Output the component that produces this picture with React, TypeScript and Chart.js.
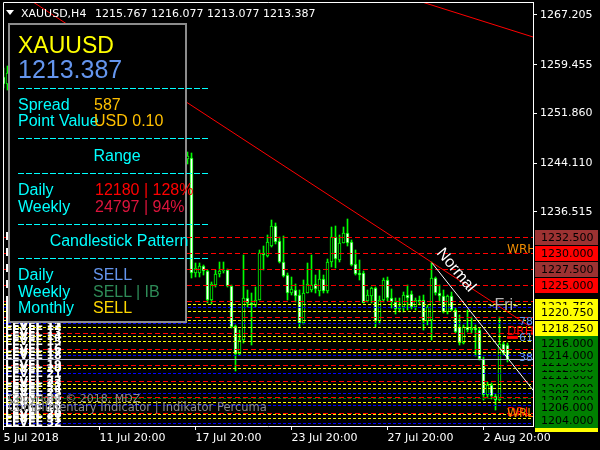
import React, { useEffect, useRef } from 'react';
import { Chart, registerables } from 'chart.js';

Chart.register(...registerables);

// ---------- data ----------
const FIRST_BAR = -47; // index of the first bar (bar 0 = first bar right of the info panel)

const opens = [
  1257.5, 1256.4, 1258.1, 1255.9, 1253.6, 1254.7, 1255.3, 1252.2, 1250.8, 1252.0,
  1253.1, 1251.2, 1249.5, 1250.6, 1251.7, 1250.9, 1248.3, 1247.0, 1248.2, 1249.4,
  1248.6, 1246.4, 1247.3, 1246.8, 1244.7, 1245.8, 1246.9, 1247.6, 1245.5, 1243.8,
  1244.6, 1245.4, 1246.1, 1245.7, 1244.2, 1245.0, 1246.3, 1245.6, 1244.4, 1243.3,
  1244.0, 1245.2, 1244.9, 1243.7, 1244.6, 1245.5, 1244.8,
  1244.9, 1226.9, 1226.9, 1228.0, 1227.3, 1222.7, 1225.1, 1226.8, 1227.2, 1227.4,
  1224.9, 1218.7, 1214.3, 1216.5, 1223.0, 1222.2, 1222.0, 1222.8, 1230.1, 1229.6,
  1231.1, 1234.3, 1231.9, 1228.7, 1226.6, 1223.8, 1224.3, 1223.5, 1219.2, 1223.9,
  1224.3, 1225.3, 1224.2, 1226.0, 1224.2, 1228.6, 1232.5, 1229.0, 1231.7, 1233.2,
  1231.8, 1228.4, 1226.9, 1227.0, 1222.6, 1223.4, 1224.6, 1219.4, 1222.8, 1225.9,
  1223.1, 1222.5, 1221.4, 1221.7, 1223.5, 1223.7, 1221.7, 1222.7, 1222.8, 1219.4,
  1219.6, 1226.1, 1223.8, 1223.3, 1220.9, 1223.4, 1221.2, 1218.6, 1216.0, 1218.6,
  1218.1, 1218.4, 1218.0, 1213.6, 1207.9, 1209.5, 1207.7, 1207.2, 1215.9, 1215.767,
];
const highs = [
  1259.0, 1259.3, 1259.6, 1257.0, 1255.1, 1256.2, 1255.9, 1253.4, 1252.6, 1253.8,
  1254.0, 1252.0, 1251.3, 1252.2, 1252.5, 1251.6, 1249.7, 1248.8, 1250.1, 1250.6,
  1249.2, 1247.9, 1248.4, 1247.6, 1246.3, 1247.5, 1248.2, 1248.0, 1246.4, 1245.1,
  1246.0, 1246.7, 1247.3, 1246.2, 1245.5, 1246.8, 1247.0, 1246.1, 1245.2, 1244.6,
  1245.8, 1246.4, 1245.6, 1245.0, 1246.2, 1246.0, 1245.9,
  1245.6, 1228.5, 1228.5, 1228.2, 1227.4, 1225.6, 1227.4, 1228.6, 1228.7, 1227.5,
  1225.1, 1218.8, 1218.1, 1229.8, 1224.3, 1223.8, 1224.8, 1230.5, 1231.1, 1232.9,
  1235.2, 1234.7, 1232.6, 1232.7, 1226.9, 1226.4, 1225.2, 1224.3, 1225.9, 1228.5,
  1229.8, 1226.6, 1227.4, 1226.6, 1229.1, 1234.2, 1234.3, 1232.9, 1234.2, 1235.3,
  1232.1, 1230.5, 1229.0, 1227.2, 1224.3, 1224.8, 1224.8, 1223.3, 1226.2, 1226.3,
  1224.5, 1223.0, 1223.0, 1224.0, 1225.1, 1224.2, 1223.0, 1223.4, 1223.5, 1221.9,
  1228.6, 1226.4, 1225.1, 1224.3, 1223.5, 1224.0, 1221.5, 1220.4, 1218.9, 1221.2,
  1220.1, 1218.9, 1218.3, 1213.9, 1209.9, 1209.8, 1208.0, 1220.1, 1216.2, 1216.077,
];
const lows = [
  1255.8, 1255.5, 1255.2, 1252.8, 1252.4, 1253.5, 1251.7, 1250.1, 1249.9, 1251.3,
  1250.6, 1248.7, 1248.9, 1249.8, 1250.4, 1247.8, 1246.5, 1246.1, 1247.6, 1248.0,
  1245.9, 1245.3, 1246.2, 1244.1, 1243.9, 1245.1, 1245.8, 1245.0, 1243.2, 1242.9,
  1244.0, 1244.5, 1245.2, 1243.6, 1243.4, 1244.6, 1245.1, 1243.9, 1242.8, 1242.5,
  1243.6, 1244.3, 1243.1, 1243.0, 1244.2, 1244.1, 1244.0,
  1226.2, 1226.4, 1226.4, 1226.6, 1222.2, 1222.1, 1224.8, 1226.4, 1226.9, 1224.7,
  1218.3, 1211.6, 1214.2, 1216.0, 1221.7, 1215.7, 1221.7, 1222.7, 1227.4, 1229.5,
  1231.0, 1231.5, 1228.5, 1226.4, 1222.7, 1223.5, 1222.5, 1218.3, 1219.0, 1223.8,
  1224.0, 1223.8, 1223.3, 1223.8, 1223.8, 1227.9, 1227.7, 1228.7, 1231.6, 1231.1,
  1228.0, 1226.6, 1225.9, 1222.2, 1222.5, 1222.2, 1218.6, 1219.0, 1222.5, 1222.6,
  1221.5, 1220.5, 1220.8, 1220.9, 1221.2, 1221.3, 1221.2, 1222.0, 1218.0, 1218.9,
  1216.5, 1223.5, 1222.5, 1220.7, 1220.5, 1221.0, 1217.6, 1215.7, 1215.8, 1217.8,
  1217.6, 1214.0, 1213.4, 1207.1, 1207.4, 1207.3, 1205.5, 1207.0, 1214.2, 1213.077,
];
const closes = [
  1256.4, 1258.1, 1255.9, 1253.6, 1254.7, 1255.3, 1252.2, 1250.8, 1252.0, 1253.1,
  1251.2, 1249.5, 1250.6, 1251.7, 1250.9, 1248.3, 1247.0, 1248.2, 1249.4, 1248.6,
  1246.4, 1247.3, 1246.8, 1244.7, 1245.8, 1246.9, 1247.6, 1245.5, 1243.8, 1244.6,
  1245.4, 1246.1, 1245.7, 1244.2, 1245.0, 1246.3, 1245.6, 1244.4, 1243.3, 1244.0,
  1245.2, 1244.9, 1243.7, 1244.6, 1245.5, 1244.8, 1245.2,
  1226.9, 1227.7, 1228.0, 1227.3, 1222.7, 1225.2, 1226.8, 1227.3, 1227.4, 1224.9,
  1218.6, 1214.3, 1216.5, 1223.0, 1222.2, 1222.0, 1222.8, 1230.1, 1229.7, 1231.8,
  1234.3, 1231.8, 1228.6, 1226.5, 1223.8, 1224.4, 1223.4, 1219.1, 1223.9, 1225.3,
  1225.1, 1224.4, 1226.0, 1224.2, 1228.7, 1232.5, 1229.1, 1231.6, 1233.2, 1231.7,
  1228.2, 1226.8, 1226.7, 1222.3, 1223.5, 1224.6, 1219.4, 1222.8, 1225.9, 1223.1,
  1222.5, 1221.4, 1221.7, 1223.5, 1223.0, 1221.7, 1222.7, 1222.5, 1219.4, 1221.7,
  1226.1, 1223.8, 1223.3, 1220.9, 1223.4, 1221.2, 1217.8, 1216.0, 1218.6, 1218.1,
  1218.4, 1218.0, 1213.6, 1207.9, 1209.5, 1207.7, 1207.2, 1215.9, 1214.5, 1213.387,
];

const AXIS_MIN = -47.125;
const AXIS_MAX = 85.375;
const PRICE_MIN = 1203.077;
const PRICE_MAX = 1269.233;

const yTickValues = [1236.515, 1244.11, 1251.86, 1259.455, 1267.205];
const xTickBars = [-47, -23, 1, 25, 49, 73];
const xTickLabels = ['5 Jul 2018', '11 Jul 20:00', '17 Jul 20:00', '23 Jul 20:00', '27 Jul 20:00', '2 Aug 20:00'];

const redLevels = [1232.5, 1230, 1227.5, 1225, 1222.5, 1220, 1217.5, 1215, 1212.5, 1210, 1207.5, 1205];
const yellowLevels = [1222.0, 1221.0, 1219.6, 1218.5, 1217.0, 1216.2, 1214.5, 1212.0, 1209.6, 1208.9, 1206.8, 1204.8, 1204.2];
const blueLevels = [1221.5, 1219.0, 1214.0, 1211.2, 1208.2, 1206.2, 1203.5];
const greenLevels = [1207.3];
const bidPrice = 1213.387;

const redTrendA = [[-50, 1273.47], [86, 1218.04]];
const redTrendB = [[55, 1269.75], [86, 1263.65]];
const normalTrend = [[60, 1228.6], [86, 1208.2]];
const drhMark = [[78.9, 1216.9], [81.6, 1216.9]];

const boxPrices = [1232.5, 1230, 1227.5, 1225, 1221.75, 1220.75, 1218.25, 1211, 1212, 1213, 1214, 1216, 1209, 1208, 1207, 1206, 1203.25, 1204];
const boxColors = ['#9c3232', '#ff0000', '#9c3232', '#ff0000', '#ffff00', '#ffff00', '#ffff00', '#008000', '#008000', '#008000', '#008000', '#008000', '#008000', '#008000', '#008000', '#008000', '#ffff00', '#008000'];

const chartNotes = [
  { text: 'WRH', bar: 78.9, price: 1230.0, color: '#f08c00', size: 12 },
  { text: 'DRH', bar: 78.9, price: 1217.3, color: '#ff0000', size: 12 },
  { text: 'DRL', bar: 78.9, price: 1204.6, color: '#ff0000', size: 12 },
  { text: 'WRL', bar: 78.9, price: 1204.5, color: '#f08c00', size: 12 },
  { text: '78', bar: 81.9, price: 1218.8, color: '#6495ed', size: 11 },
  { text: '61', bar: 81.9, price: 1216.3, color: '#6495ed', size: 11 },
  { text: '38', bar: 81.9, price: 1213.2, color: '#6495ed', size: 11 },
];
// ---------- end data ----------

const FONT_AXIS = '"DejaVu Sans", sans-serif';
const FONT_PANEL = '"Liberation Sans", Arial, sans-serif';

function hLine(v: number, color: string, dash: number[], order = 2, width = 1) {
  return {
    type: 'line' as const,
    data: [{ x: AXIS_MIN, y: v }, { x: AXIS_MAX, y: v }],
    borderColor: color,
    borderWidth: width,
    borderDash: dash,
    pointRadius: 0,
    tension: 0,
    order,
    snap: true,
  };
}
function segLine(pts: number[][], color: string, width = 1, order = 1) {
  return {
    type: 'line' as const,
    data: pts.map(([x, y]) => ({ x, y })),
    borderColor: color,
    borderWidth: width,
    pointRadius: 0,
    tension: 0,
    order,
  };
}

// snap scale-computed pixels to the device grid so 1px lines stay crisp
const snapPlugin = {
  id: 'pixelSnap',
  afterDatasetsUpdate(chart: any) {
    chart.data.datasets.forEach((ds: any, i: number) => {
      const meta = chart.getDatasetMeta(i);
      if (ds.snap) {
        meta.data.forEach((pt: any) => {
          pt.y = Math.floor(pt.y) + 0.5;
        });
      } else if (ds.type === 'bar') {
        meta.data.forEach((b: any) => {
          b.y = Math.round(b.y);
          b.base = Math.round(b.base);
        });
      }
    });
  },
};

const overlayPlugin = {
  id: 'mt4overlay',
  afterDatasetsDraw(chart: any) {
    const { ctx, chartArea, scales } = chart;
    const x = scales.x, y = scales.y;
    ctx.save();
    ctx.beginPath();
    ctx.rect(chartArea.left, chartArea.top, chartArea.right - chartArea.left, chartArea.bottom - chartArea.top);
    ctx.clip();

    // LEVEL labels stacked on the left
    const levels = [...redLevels, ...yellowLevels, ...blueLevels].sort((a, b) => b - a);
    ctx.font = `bold 11px ${FONT_AXIS}`;
    ctx.fillStyle = '#ffffff';
    ctx.textBaseline = 'middle';
    ctx.textAlign = 'left';
    levels.forEach((p, i) => ctx.fillText(`LEVEL ${i + 1}`, 5, y.getPixelForValue(p)));

    // annotations
    ctx.textBaseline = 'alphabetic';
    chartNotes.forEach((n) => {
      ctx.font = `${n.size}px ${FONT_AXIS}`;
      ctx.fillStyle = n.color;
      ctx.fillText(n.text, x.getPixelForValue(n.bar), y.getPixelForValue(n.price));
    });
    ctx.font = `16px ${FONT_PANEL}`;
    ctx.fillStyle = '#b4b4b4';
    ctx.fillText('-Fri-', x.getPixelForValue(74.4), y.getPixelForValue(1221.2));

    // "Normal" rotated label
    ctx.save();
    ctx.translate(x.getPixelForValue(66.1), y.getPixelForValue(1227.4));
    ctx.rotate((50 * Math.PI) / 180);
    ctx.font = `16px ${FONT_PANEL}`;
    ctx.fillStyle = '#ffffff';
    ctx.textAlign = 'center';
    ctx.textBaseline = 'middle';
    ctx.fillText('Normal', 0, 0);
    ctx.restore();
    ctx.restore();
  },
  afterDraw(chart: any) {
    const { ctx, chartArea, scales } = chart;
    const y = scales.y;
    ctx.save();
    // frame left + top
    ctx.strokeStyle = '#ffffff';
    ctx.lineWidth = 1;
    ctx.beginPath();
    ctx.moveTo(chartArea.left + 0.5, chartArea.bottom);
    ctx.lineTo(chartArea.left + 0.5, chartArea.top + 0.5);
    ctx.lineTo(chartArea.right, chartArea.top + 0.5);
    ctx.stroke();
    // price boxes on the right axis
    ctx.font = `11px ${FONT_AXIS}`;
    ctx.textBaseline = 'middle';
    ctx.textAlign = 'left';
    boxPrices.forEach((p, i) => {
      const py = y.getPixelForValue(p);
      const top = Math.round(py - 7.5);
      ctx.fillStyle = boxColors[i];
      ctx.fillRect(chartArea.right + 2, top, 63, 15);
      ctx.fillStyle = '#000000';
      ctx.fillText(p.toFixed(3), chartArea.right + 8, top + 8);
    });
    ctx.restore();
  },
};

function Txt(props: { x: number; base: number; size: number; color: string; family?: string; center?: boolean; children: any }) {
  const { x, base, size, color, family = FONT_PANEL, center = false, children } = props;
  const top = base - 0.846 * size;
  return (
    <div
      style={{
        position: 'absolute',
        left: center ? x - 150 : x,
        top,
        width: center ? 300 : undefined,
        textAlign: center ? 'center' : 'left',
        fontFamily: family,
        fontSize: size,
        lineHeight: `${size}px`,
        color,
        whiteSpace: 'pre',
      }}
    >
      {children}
    </div>
  );
}

function Dash({ y }: { y: number }) {
  return (
    <div
      style={{
        position: 'absolute',
        left: 18,
        top: y,
        width: 191,
        height: 1,
        background: 'repeating-linear-gradient(90deg, #00ffff 0px, #00ffff 6px, transparent 6px, transparent 8px)',
      }}
    />
  );
}

export default function App() {
  const ref = useRef<HTMLCanvasElement>(null);

  useEffect(() => {
    const bars = opens.map((o, i) => ({ x: FIRST_BAR + i, o, h: highs[i], l: lows[i], c: closes[i] }));
    const wicks = bars.map((b) => ({ x: b.x, y: [b.l, b.h] }));
    const bull = bars.filter((b) => b.c >= b.o).map((b) => ({ x: b.x, y: [b.o, b.c] }));
    const bear = bars.filter((b) => b.c < b.o).map((b) => ({ x: b.x, y: [b.c, b.o] }));

    const datasets: any[] = [
      { type: 'bar', data: wicks, backgroundColor: '#00ff00', borderWidth: 0, barThickness: 1, grouped: false, order: 12 },
      { type: 'bar', data: bull, backgroundColor: '#000000', borderColor: '#00ff00', borderWidth: 1, borderSkipped: false, barThickness: 3, grouped: false, minBarLength: 1, order: 11 },
      { type: 'bar', data: bear, backgroundColor: '#ffffff', borderColor: '#00ff00', borderWidth: 1, borderSkipped: false, barThickness: 3, grouped: false, minBarLength: 1, order: 11 },
      ...redLevels.map((v) => hLine(v, '#ff0000', [5, 3])),
      ...yellowLevels.map((v) => hLine(v, '#ffff00', [3, 2])),
      ...blueLevels.map((v) => hLine(v, '#0000ff', [3, 2])),
      ...greenLevels.map((v) => hLine(v, '#008000', [3, 2])),
      hLine(bidPrice, '#a8a8c8', [], 1),
      segLine(redTrendA, '#ff0000'),
      segLine(redTrendB, '#ff0000'),
      segLine(normalTrend, '#ffffff'),
      segLine(drhMark, '#ff0000', 3),
    ];

    const chart = new Chart(ref.current as HTMLCanvasElement, {
      type: 'bar',
      data: { datasets },
      options: {
        responsive: false,
        animation: false,
        devicePixelRatio: 1,
        events: [],
        layout: { padding: { left: 3, top: 2, right: 0, bottom: 0 } },
        plugins: { legend: { display: false }, tooltip: { enabled: false } },
        scales: {
          x: {
            type: 'linear',
            position: 'bottom',
            min: AXIS_MIN,
            max: AXIS_MAX,
            offset: false,
            grid: { display: true, drawOnChartArea: false, drawTicks: true, tickLength: 4, color: '#ffffff', offset: false },
            border: { display: true, color: '#ffffff', width: 1 },
            ticks: {
              color: '#ffffff',
              font: { family: FONT_AXIS, size: 11 },
              align: 'start',
              maxRotation: 0,
              minRotation: 0,
              autoSkip: false,
              padding: 2,
              callback: (_v: any, i: number) => xTickLabels[i] ?? '',
            },
            afterBuildTicks: (s: any) => {
              s.ticks = xTickBars.map((v) => ({ value: v }));
            },
            afterFit: (s: any) => {
              s.height = 24;
              s.paddingLeft = 0;
              s.paddingRight = 0;
            },
          },
          y: {
            type: 'linear',
            position: 'right',
            min: PRICE_MIN,
            max: PRICE_MAX,
            beginAtZero: false,
            grid: { display: true, drawOnChartArea: false, drawTicks: true, tickLength: 4, color: '#ffffff' },
            border: { display: true, color: '#ffffff', width: 1 },
            ticks: {
              color: '#ffffff',
              font: { family: FONT_AXIS, size: 11 },
              padding: 3,
              callback: (v: any) => Number(v).toFixed(3),
            },
            afterBuildTicks: (s: any) => {
              s.ticks = yTickValues.map((v) => ({ value: v }));
            },
            afterFit: (s: any) => {
              s.width = 67;
              s.paddingTop = 0;
              s.paddingBottom = 0;
            },
          },
        },
      } as any,
      plugins: [snapPlugin, overlayPlugin],
    });
    return () => chart.destroy();
  }, []);

  return (
    <div style={{ position: 'fixed', left: 0, top: 0, width: 600, height: 450, background: '#000', overflow: 'hidden' }}>
      <canvas ref={ref} width={600} height={450} style={{ position: 'absolute', left: 0, top: 0, width: 600, height: 450 }} />

      {/* header */}
      <div
        style={{
          position: 'absolute',
          left: 6,
          top: 10,
          width: 0,
          height: 0,
          borderLeft: '4.5px solid transparent',
          borderRight: '4.5px solid transparent',
          borderTop: '5px solid #ffffff',
        }}
      />
      <Txt x={21} base={17} size={11} color="#ffffff" family={FONT_AXIS}>XAUUSD,H4</Txt>
      <Txt x={95} base={17} size={11} color="#ffffff" family={FONT_AXIS}>1215.767 1216.077 1213.077 1213.387</Txt>

      {/* info panel */}
      <div
        style={{
          position: 'absolute',
          left: 8,
          top: 23,
          width: 179,
          height: 300,
          boxSizing: 'border-box',
          border: '2px solid #8c8c8c',
          background: '#000',
        }}
      />
      <Txt x={18} base={53} size={23} color="#ffff00">XAUUSD</Txt>
      <Txt x={18} base={78} size={25} color="#6495ed">1213.387</Txt>
      <Dash y={88} />
      <Txt x={18} base={110.5} size={16} color="#00ffff">Spread</Txt>
      <Txt x={94} base={110.5} size={16} color="#ffc000">587</Txt>
      <Txt x={18} base={127} size={16} color="#00ffff">Point Value</Txt>
      <Txt x={94} base={127} size={16} color="#ffc000">USD 0.10</Txt>
      <Dash y={138} />
      <Txt x={117} base={162} size={16} color="#00ffff" center>Range</Txt>
      <Dash y={173} />
      <Txt x={18} base={195.5} size={16} color="#00ffff">Daily</Txt>
      <Txt x={95} base={195.5} size={16} color="#ff0000">12180 | 128%</Txt>
      <Txt x={18} base={213} size={16} color="#00ffff">Weekly</Txt>
      <Txt x={95} base={213} size={16} color="#dc143c">24797 | 94%</Txt>
      <Dash y={224} />
      <Txt x={119} base={246.5} size={16} color="#00ffff" center>Candlestick Pattern</Txt>
      <Dash y={258} />
      <Txt x={18} base={281} size={16} color="#00ffff">Daily</Txt>
      <Txt x={93} base={281} size={16} color="#6495ed">SELL</Txt>
      <Txt x={18} base={297.5} size={16} color="#00ffff">Weekly</Txt>
      <Txt x={93} base={297.5} size={16} color="#2e8b57">SELL | IB</Txt>
      <Txt x={18} base={314} size={16} color="#00ffff">Monthly</Txt>
      <Txt x={93} base={314} size={16} color="#ffd700">SELL</Txt>

      {/* copyright */}
      <Txt x={8} base={402} size={11} color="#8c8c8c" family={FONT_AXIS}>Copyright © 2018, MDZ</Txt>
      <Txt x={8} base={412} size={11.5} color="#8c8c8c" family={FONT_AXIS}>Complimentary Indicator | Indikator Percuma</Txt>
    </div>
  );
}
